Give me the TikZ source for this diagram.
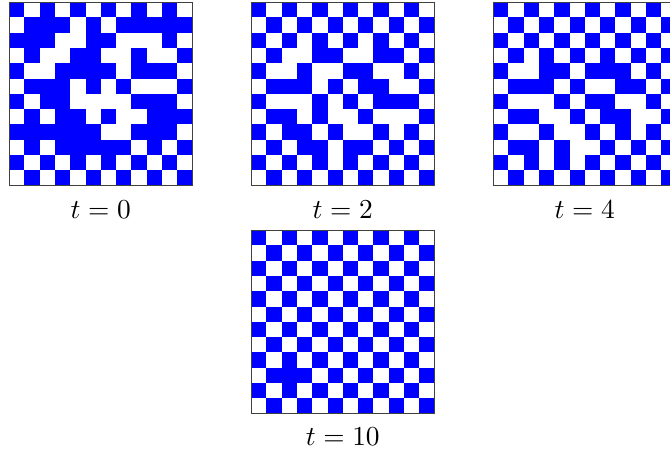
\documentclass[tikz,border=0pt]{standalone}
\def\cellsz{15.3}
\tikzset{
  cell/.style={fill={rgb,255:red,0;green,0;blue,255}},
  frame/.style={draw=black!75, line width=0.35pt, inner sep=0pt, outer sep=0pt,
    minimum width=12*\cellsz*0.365pt, minimum height=12*\cellsz*0.365pt, anchor=north west},
  tlabel/.style={inner sep=0pt, anchor=center}
}
\newcommand\drawgrid[4]{% name, x0, y0, rows
  \foreach \row [count=\r from 0] in {#4} {
    \foreach \v [count=\c from 0] in \row {
      \ifnum\v=1 \fill[cell] (#2+\c*\cellsz, #3+\r*\cellsz) rectangle ++(\cellsz,\cellsz);\fi
    }
  }
  \node[frame] (#1) at (#2,#3) {};
}
\begin{document}
\begin{tikzpicture}[x=0.365pt,y=-0.365pt]
\useasboundingbox (0,0) rectangle (670,452);
\clip (0,0) rectangle (670,452);
\drawgrid{g0}{9}{2}{
 {1,0,1,0,1,0,1,0,1,0,1,0},
 {0,1,1,1,0,1,0,1,1,1,1,1},
 {1,1,1,0,0,1,1,0,0,0,1,0},
 {0,1,0,0,1,1,0,0,1,0,0,1},
 {1,0,0,1,1,1,1,0,1,1,1,0},
 {0,1,1,1,0,1,0,1,0,0,0,1},
 {1,0,1,1,0,0,0,0,1,1,1,0},
 {0,1,0,1,1,0,1,0,0,1,1,1},
 {1,1,1,1,1,1,0,0,1,1,1,0},
 {0,1,0,1,1,1,1,1,0,1,0,1},
 {1,0,1,0,1,0,1,0,1,0,1,0},
 {0,1,0,1,0,1,0,1,0,1,0,1}}
\drawgrid{g2}{251}{2}{
 {1,0,1,0,1,0,1,0,1,0,1,0},
 {0,1,0,1,0,1,0,1,0,1,0,1},
 {1,0,1,0,1,0,1,0,1,0,1,0},
 {0,1,0,0,1,1,0,0,1,1,0,1},
 {1,0,0,1,0,0,1,1,0,0,1,0},
 {0,1,1,1,0,1,0,1,1,0,0,1},
 {1,0,0,0,1,0,1,0,1,1,1,0},
 {0,1,1,0,1,0,0,1,0,0,0,1},
 {1,0,1,1,0,1,0,0,1,0,1,0},
 {0,1,0,1,1,0,1,1,0,1,0,1},
 {1,0,1,0,1,0,1,0,1,0,1,0},
 {0,1,0,1,0,1,0,1,0,1,0,1}}
\drawgrid{g4}{493}{2}{
 {1,0,1,0,1,0,1,0,1,0,1,0},
 {0,1,0,1,0,1,0,1,0,1,0,1},
 {1,0,1,0,1,0,1,0,1,0,1,0},
 {0,1,0,1,0,1,0,1,0,1,0,1},
 {1,0,0,1,1,0,1,1,1,0,1,0},
 {0,1,1,1,0,1,0,0,1,1,0,1},
 {1,0,0,0,1,0,1,1,0,0,1,0},
 {0,1,1,0,0,1,0,1,1,0,0,1},
 {1,0,0,1,0,0,1,0,1,0,1,0},
 {0,1,1,0,1,0,0,1,0,1,0,1},
 {1,0,1,0,1,0,1,0,1,0,1,0},
 {0,1,0,1,0,1,0,1,0,1,0,1}}
\drawgrid{g10}{251}{230}{
 {1,0,1,0,1,0,1,0,1,0,1,0},
 {0,1,0,1,0,1,0,1,0,1,0,1},
 {1,0,1,0,1,0,1,0,1,0,1,0},
 {0,1,0,1,0,1,0,1,0,1,0,1},
 {1,0,1,0,1,0,1,0,1,0,1,0},
 {0,1,0,1,0,1,0,1,0,1,0,1},
 {1,0,1,0,1,0,1,0,1,0,1,0},
 {0,1,0,1,0,1,0,1,0,1,0,1},
 {1,0,1,0,1,0,1,0,1,0,1,0},
 {0,1,1,1,0,1,0,1,0,1,0,1},
 {1,0,1,0,1,0,1,0,1,0,1,0},
 {0,1,0,1,0,1,0,1,0,1,0,1}}
\node[tlabel] (l0) at ([yshift=-24*0.365pt]g0.south) {$t=0$};
\node[tlabel] (l2) at ([yshift=-24*0.365pt]g2.south) {$t=2$};
\node[tlabel] (l4) at ([yshift=-24*0.365pt]g4.south) {$t=4$};
\node[tlabel] (l10) at ([yshift=-23.5*0.365pt]g10.south) {$t=10$};
\end{tikzpicture}
\end{document}
